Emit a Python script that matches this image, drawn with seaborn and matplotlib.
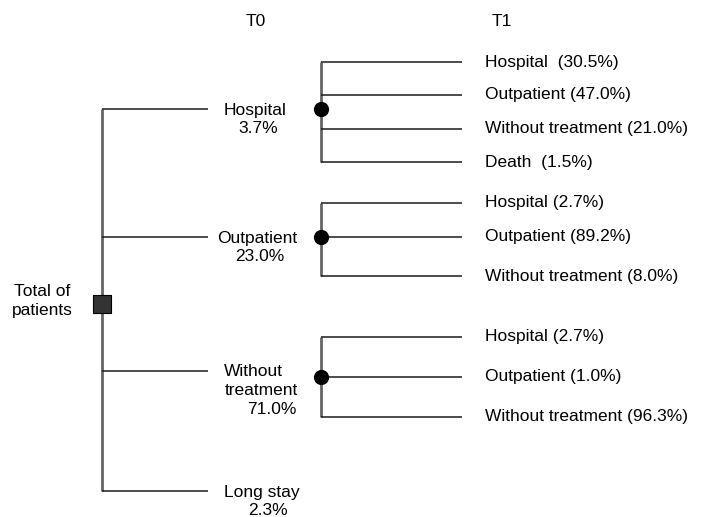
import matplotlib
matplotlib.use("Agg")
import matplotlib.pyplot as plt
import seaborn as sns
import pandas as pd

# ---- data ----
t0_labels = ["Hospital", "Outpatient", "Without\ntreatment", "Long stay"]
t0_pct = [3.7, 23.0, 71.0, 2.3]
t1_hosp_labels = ["Hospital ", "Outpatient", "Without treatment", "Death "]
t1_hosp_pct = [30.5, 47.0, 21.0, 1.5]
t1_out_labels = ["Hospital", "Outpatient", "Without treatment"]
t1_out_pct = [2.7, 89.2, 8.0]
t1_wo_labels = ["Hospital", "Outpatient", "Without treatment"]
t1_wo_pct = [2.7, 1.0, 96.3]
headers = ["T0", "T1"]
root_label = ["Total of", "patients"]

# ---- layout (pixel space) ----
sns.set_theme(style="white")
plt.rcParams["font.family"] = ["Liberation Sans", "DejaVu Sans"]
plt.rcParams["text.color"] = "black"
fig = plt.figure(figsize=(7.03, 5.17), dpi=100)
ax = fig.add_axes([0, 0, 1, 1])

FS = 12.5
root_x, root_y = 102, 304
t0_end = 208
t0_y = [109, 237, 371, 491]
# per-line centres of the T0 labels
t0_line_x = [[255, 258], [257, 260], [253, 261, 272], [262, 268]]
LS = 18.5
sub_x = 321
sub_end = 462
t1_text_x = 485
subtrees = [
    (t1_hosp_labels, t1_hosp_pct, [62, 95, 129, 162], 109),
    (t1_out_labels, t1_out_pct, [203, 237, 276], 237),
    (t1_wo_labels, t1_wo_pct, [337, 377, 417], 377),
]

line_dark = "#1a1a1a"
line_gray = "#666666"

# root vertical + branches
ax.vlines(root_x, min(t0_y), max(t0_y), color=line_gray, lw=2.0, zorder=1)
ax.hlines(t0_y, root_x, t0_end, color=line_dark, lw=1.1, zorder=1)

# T0 labels
for lab, p, y, xs in zip(t0_labels, t0_pct, t0_y, t0_line_x):
    lines = lab.split("\n") + [f"{p:.1f}%"]
    for k, (ln, lx) in enumerate(zip(lines, xs)):
        ax.text(lx, y + 1 + LS * k, ln, ha="center", va="center",
                fontsize=FS, color="black")

# subtrees
nodes = []
for labels, pcts, ys, cy in subtrees:
    ax.vlines(sub_x, min(ys), max(ys), color=line_gray, lw=2.0, zorder=1)
    ax.hlines(ys, sub_x, sub_end, color=line_dark, lw=1.1, zorder=1)
    for lab, p, y in zip(labels, pcts, ys):
        ax.text(t1_text_x, y, f"{lab} ({p:.1f}%)", ha="left", va="center",
                fontsize=FS, color="black")
    nodes.append({"x": sub_x, "y": cy})

nd = pd.DataFrame(nodes)
sns.scatterplot(data=nd, x="x", y="y", ax=ax, s=120, color="black",
                edgecolor="black", linewidth=0, zorder=3, legend=False)

root = pd.DataFrame({"x": [root_x], "y": [root_y]})
sns.scatterplot(data=root, x="x", y="y", ax=ax, marker="s", s=150,
                color="#333333", edgecolor="black", linewidth=0.8, zorder=3,
                legend=False)

for k, ln in enumerate(root_label):
    ax.text(42, 291 + 20 * k, ln, ha="center", va="center", fontsize=FS,
            color="black")

ax.text(256, 22, headers[0], ha="center", va="center", fontsize=FS,
        color="black")
ax.text(502, 22, headers[1], ha="center", va="center", fontsize=FS,
        color="black")

ax.set_xlabel("")
ax.set_ylabel("")
ax.set_xlim(0, 703)
ax.set_ylim(517, 0)
ax.axis("off")

fig.savefig("out.png", dpi=100)
